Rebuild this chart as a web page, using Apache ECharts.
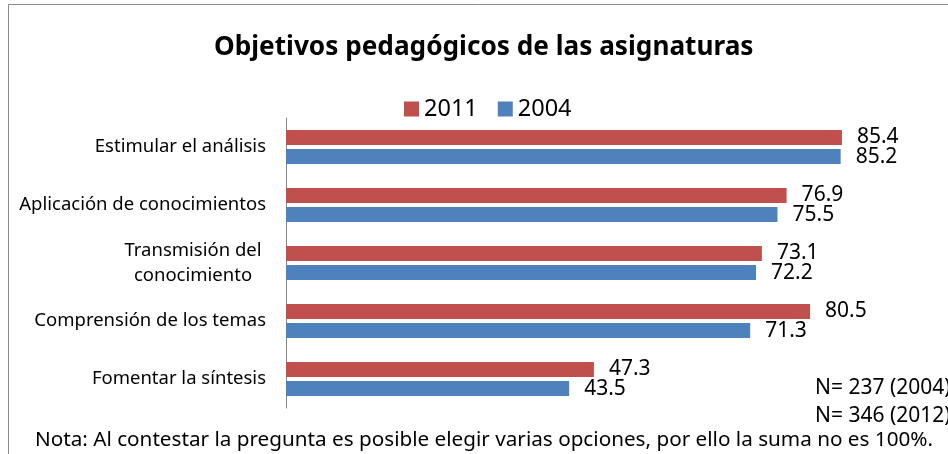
<!DOCTYPE html>
<html lang="es">
<head>
    <meta charset="UTF-8">
    <title>Objetivos pedagógicos</title>
    <script src="https://cdn.jsdelivr.net/npm/echarts@6/dist/echarts.min.js"></script>
    <style>
        body { margin: 0; background: #fff; }
    </style>
</head>
<body>
<div id="main" style="height:454px;width:948px"></div>

<script type="text/javascript">
    // datos
    var categorias = ['Estimular el análisis', 'Aplicación de conocimientos', 'Transmisión del\nconocimiento', 'Comprensión de los temas', 'Fomentar la síntesis'];
    var datos2011 = [85.4, 76.9, 73.1, 80.5, 47.3];
    var datos2004 = [85.2, 75.5, 72.2, 71.3, 43.5];
    var notaN = ['N= 237 (2004)', 'N= 346 (2012)'];
    var nota = 'Nota: Al contestar la pregunta es posible elegir varias opciones, por ello la suma no es 100%.';

    var fuente = '"Noto Sans", "Open Sans", sans-serif';

    var myChart = echarts.init(document.getElementById('main'));
    myChart.setOption({
        animation: false,
        textStyle: { fontFamily: fuente },
        title: {
            text: 'Objetivos pedagógicos de las asignaturas',
            left: 209,
            top: 30,
            textStyle: { fontSize: 26.2, fontWeight: 'bold', color: '#000', fontFamily: fuente }
        },
        legend: {
            data: ['2011', '2004'],
            left: 399,
            top: 92,
            itemWidth: 15,
            itemHeight: 15,
            itemGap: 20,
            icon: 'rect',
            textStyle: { fontSize: 23.5, color: '#000', fontFamily: fuente }
        },
        grid: { left: 286, right: 11, top: 118, bottom: 46 },
        xAxis: {
            type: 'value',
            min: 0,
            max: 100,
            show: false
        },
        yAxis: {
            type: 'category',
            data: categorias,
            inverse: true,
            axisLine: { show: true, lineStyle: { color: '#868686', width: 1 } },
            axisTick: { show: false },
            axisLabel: {
                color: '#000',
                fontSize: 18.5,
                margin: 20,
                lineHeight: 25,
                fontFamily: fuente,
                formatter: function (v) {
                    if (v.indexOf('\n') >= 0) {
                        return v.split('\n').map(function (s) { return '{c|' + s + '}'; }).join('\n');
                    }
                    return v;
                },
                rich: {
                    c: { width: 146, align: 'center', fontSize: 18.5, lineHeight: 25, color: '#000', fontFamily: fuente }
                }
            }
        },
        series: [
            {
                name: '2011',
                type: 'bar',
                data: datos2011,
                barWidth: 15,
                barGap: '27%',
                itemStyle: { color: '#C0504D' },
                label: { show: true, position: 'right', distance: 15, fontSize: 21, color: '#000', fontFamily: fuente }
            },
            {
                name: '2004',
                type: 'bar',
                data: datos2004,
                barWidth: 15,
                barGap: '27%',
                itemStyle: { color: '#4F81BD' },
                label: { show: true, position: 'right', distance: 15, fontSize: 21, color: '#000', fontFamily: fuente }
            }
        ],
        graphic: [
            {
                type: 'rect',
                shape: { x: 8.5, y: 4.5, width: 1200, height: 1200 },
                style: { fill: 'none', stroke: '#8a8a8a', lineWidth: 1 },
                silent: true
            },
            {
                type: 'text',
                left: 815,
                top: 378,
                style: { text: notaN[0], fontSize: 21, fill: '#000', fontFamily: fuente }
            },
            {
                type: 'text',
                left: 815,
                top: 406,
                style: { text: notaN[1], fontSize: 21, fill: '#000', fontFamily: fuente }
            },
            {
                type: 'text',
                left: 35,
                top: 430,
                style: { text: nota, fontSize: 20.7, fill: '#000', fontFamily: fuente }
            }
        ]
    });
</script>
</body>
</html>
